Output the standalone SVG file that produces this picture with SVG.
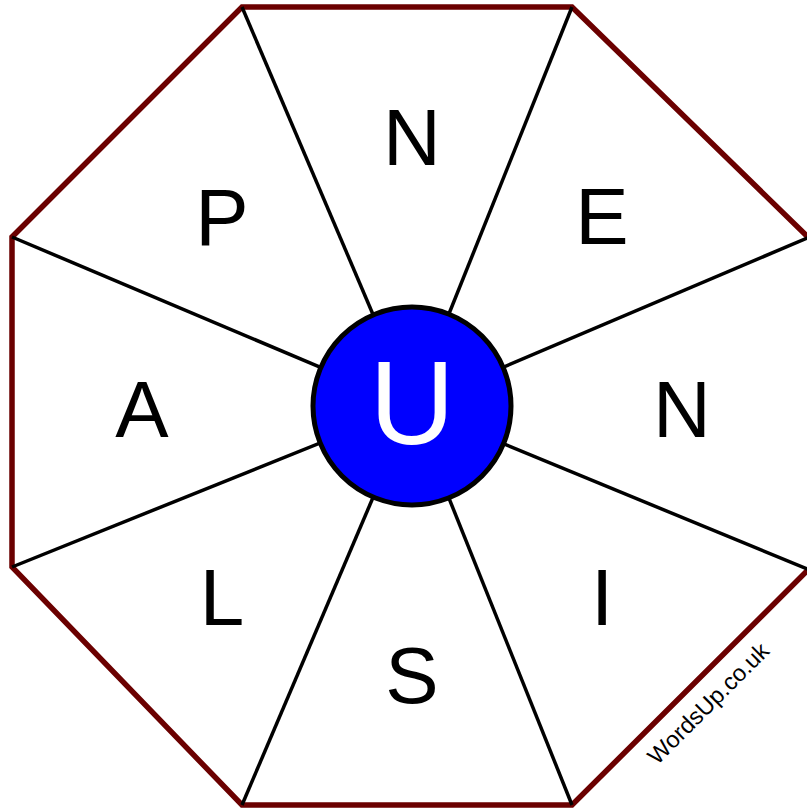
<svg xmlns="http://www.w3.org/2000/svg" width="807" height="810" viewBox="0 0 807 810">
<style>
.letter{font-family:"Liberation Sans",Arial,sans-serif;font-size:80px;fill:#000;text-anchor:middle}
.spoke{stroke:#000;stroke-width:3.5;fill:none}
</style>
<rect width="807" height="810" fill="#fff"/>
<g id="octagon">
<polygon points="242,7 572,7 812,241 812,566 572,805 242,805 12,567 12,237" fill="#fff" stroke="#6b0000" stroke-width="5.5" stroke-linejoin="miter"/>
</g>
<g id="connectors">
<line class="spoke" x1="412" y1="406" x2="242" y2="7"/>
<line class="spoke" x1="412" y1="406" x2="572" y2="7"/>
<line class="spoke" x1="412" y1="406" x2="812" y2="236"/>
<line class="spoke" x1="412" y1="406" x2="812" y2="571"/>
<line class="spoke" x1="412" y1="406" x2="572" y2="805"/>
<line class="spoke" x1="412" y1="406" x2="242" y2="805"/>
<line class="spoke" x1="412" y1="406" x2="12" y2="567"/>
<line class="spoke" x1="412" y1="406" x2="12" y2="237"/>
</g>
<g id="node-N-top"><text class="letter" x="412" y="165">N</text></g>
<g id="node-E"><text class="letter" x="602" y="244">E</text></g>
<g id="node-N-right"><text class="letter" x="682" y="437">N</text></g>
<g id="node-I"><text class="letter" x="602" y="625">I</text></g>
<g id="node-S"><text class="letter" x="412" y="703">S</text></g>
<g id="node-L"><text class="letter" x="222" y="625">L</text></g>
<g id="node-A"><text class="letter" x="142" y="437">A</text></g>
<g id="node-P"><text class="letter" x="222" y="245">P</text></g>
<g id="node-U">
<circle cx="412" cy="406" r="99" fill="#0000ff" stroke="#000" stroke-width="5"/>
<text x="412" y="444" font-family="Liberation Sans,Arial,sans-serif" font-size="118" fill="#fff" text-anchor="middle">U</text>
</g>
<g id="watermark"><text x="714" y="709" transform="rotate(-45 714 709)" font-family="Liberation Sans,Arial,sans-serif" font-size="23.5" fill="#000" text-anchor="middle">WordsUp.co.uk</text></g>
</svg>
